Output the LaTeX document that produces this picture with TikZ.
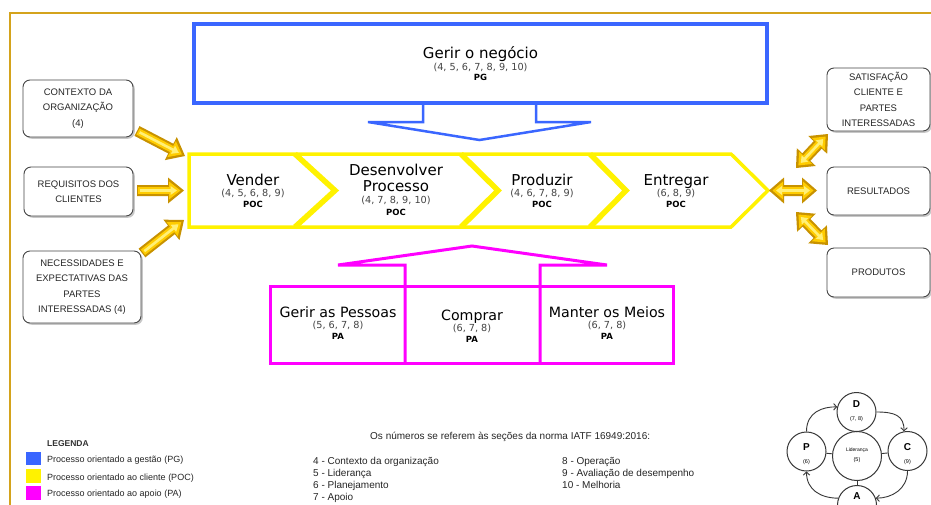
\documentclass[tikz,border=0pt]{standalone}
\usepackage{fontspec}
\setmainfont{DejaVu Sans}
\newfontfamily\arialfam{Liberation Sans}
\usetikzlibrary{arrows.meta,shadows,calc}

\definecolor{frameGold}{RGB}{212,163,28}
\definecolor{pgBlue}{RGB}{58,102,255}
\definecolor{pocYellow}{RGB}{255,242,0}
\definecolor{paMagenta}{RGB}{255,0,255}
\definecolor{goldDark}{RGB}{200,146,0}
\definecolor{goldMid}{RGB}{255,204,0}
\definecolor{goldLight}{RGB}{255,240,120}
\definecolor{numGray}{RGB}{68,68,68}
\definecolor{boxEdge}{RGB}{70,70,70}
\definecolor{cycGray}{RGB}{55,55,55}

% fat single-headed arrow: start, end, shaft half width, head half width, head length, colour
\newcommand\singlefat[6]{%
  \coordinate (sf-h) at ($(#2)!#5!(#1)$);
  \fill[#6] ($(#1)!#3!90:(#2)$) -- ($(sf-h)!#3!90:(#2)$) -- ($(sf-h)!#4!90:(#2)$) -- (#2)
    -- ($(sf-h)!#4!-90:(#2)$) -- ($(sf-h)!#3!-90:(#2)$) -- ($(#1)!#3!-90:(#2)$) -- cycle;}
% fat double-headed arrow, same arguments
\newcommand\doublefat[6]{%
  \coordinate (df-a) at ($(#1)!#5!(#2)$);
  \coordinate (df-b) at ($(#2)!#5!(#1)$);
  \fill[#6] (#1) -- ($(df-a)!#4!90:(#2)$) -- ($(df-a)!#3!90:(#2)$) -- ($(df-b)!#3!90:(#2)$)
    -- ($(df-b)!#4!90:(#2)$) -- (#2) -- ($(df-b)!#4!-90:(#2)$) -- ($(df-b)!#3!-90:(#2)$)
    -- ($(df-a)!#3!-90:(#2)$) -- ($(df-a)!#4!-90:(#2)$) -- cycle;}
% bevelled gold arrows built from three layers
\newcommand\goldarrow[2]{%
  \singlefat{#1}{#2}{5.5pt}{13pt}{16pt}{goldDark}
  \coordinate (ga-s) at ($(#1)!1.2pt!(#2)$);
  \coordinate (ga-e) at ($(#2)!3.5pt!(#1)$);
  \singlefat{ga-s}{ga-e}{3.4pt}{9pt}{11.5pt}{goldMid}
  \coordinate (ga-s2) at ($(#1)!3pt!(#2)$);
  \coordinate (ga-e2) at ($(#2)!7pt!(#1)$);
  \singlefat{ga-s2}{ga-e2}{1.3pt}{4.5pt}{6.5pt}{goldLight}}
\newcommand\golddouble[2]{%
  \doublefat{#1}{#2}{5.5pt}{13pt}{15pt}{goldDark}
  \coordinate (gd-s) at ($(#1)!3.5pt!(#2)$);
  \coordinate (gd-e) at ($(#2)!3.5pt!(#1)$);
  \doublefat{gd-s}{gd-e}{3.4pt}{9pt}{10.5pt}{goldMid}
  \coordinate (gd-s2) at ($(#1)!7pt!(#2)$);
  \coordinate (gd-e2) at ($(#2)!7pt!(#1)$);
  \doublefat{gd-s2}{gd-e2}{1.3pt}{4.5pt}{6pt}{goldLight}}

\begin{document}
\begin{tikzpicture}[x=1pt,y=-1pt,
  infobox/.style={draw=boxEdge, line width=0.9pt, rounded corners=7pt, fill=white,
    drop shadow={shadow xshift=1.8pt, shadow yshift=-1.8pt, fill=black, opacity=0.22},
    align=center, inner sep=0pt, text=black!85,
    font=\arialfam\fontsize{9.5}{15.5}\selectfont},
  proc/.style={inner sep=0pt, text height=10.9pt, text depth=0pt, font=\fontsize{15}{18}\selectfont},
  procsm/.style={inner sep=0pt, text height=10.3pt, text depth=0pt, font=\fontsize{14.2}{17}\selectfont},
  clauses/.style={inner sep=0pt, text height=7pt, text depth=0pt, text=numGray, font=\fontsize{9.7}{11}\selectfont},
  tagl/.style={inner sep=0pt, text height=6.2pt, text depth=0pt, font=\bfseries\fontsize{8.5}{10}\selectfont},
  legtext/.style={anchor=west, inner sep=0pt, text height=6.5pt, text depth=0pt, text=black!85, font=\arialfam\fontsize{9}{11}\selectfont},
  listtext/.style={anchor=west, inner sep=0pt, text height=7.2pt, text depth=0pt, text=black!85, font=\arialfam\fontsize{10}{12}\selectfont},
  cyc/.style={circle, draw=cycGray, line width=1pt, fill=white, inner sep=0pt, minimum size=39pt},
  cycarrow/.style={draw=cycGray, line width=0.9pt, -{Straight Barb[length=3pt,width=6.5pt]}},
  cycletter/.style={inner sep=0pt, font=\arialfam\bfseries\fontsize{10}{11}\selectfont},
  cycnum/.style={inner sep=0pt, font=\arialfam\fontsize{5.5}{6}\selectfont}]

\clip (0,0) rectangle (931,504);
\fill[white] (0,0) rectangle (931,504);

% outer frame
\draw[frameGold, line width=1.6pt] (10,13) rectangle (950,530);

% management process (top)
\node[draw=pgBlue, line width=3.5pt, minimum width=573pt, minimum height=79pt, inner sep=0pt] (pg) at (480.5,63.5) {};
\node[proc] (pg-t) at (480.5,53) {Gerir o negócio};
\node[clauses] (pg-n) at (480.5,66.5) {(4, 5, 6, 7, 8, 9, 10)};
\node[tagl] (pg-c) at (480.5,77) {PG};
\draw[pgBlue, line width=2.5pt, line join=miter] (423,103) -- (423,122) -- (368,122) -- (479.5,140)
  -- (591,122) -- (536,122) -- (536,103);

% customer-oriented process chain
\draw[pocYellow, line width=3.5pt, line join=miter] (189,154) -- (731,154) -- (768,190.5) -- (731,227) -- (189,227) -- cycle;
\draw[pocYellow, line width=5.5pt, line join=miter] (295,154) -- (335,190.5) -- (295,227);
\draw[pocYellow, line width=5.5pt, line join=miter] (461,154) -- (498,190.5) -- (461,227);
\draw[pocYellow, line width=5.5pt, line join=miter] (590,154) -- (626,190.5) -- (590,227);

\node[proc] (v-t) at (253,180.5) {Vender};
\node[clauses] (v-n) at (253,193) {(4, 5, 6, 8, 9)};
\node[tagl] (v-c) at (253,204.5) {POC};
\node[proc] (dp-t1) at (396,170.5) {Desenvolver};
\node[proc] (dp-t2) at (396,186) {Processo};
\node[clauses] (dp-n) at (396,200) {(4, 7, 8, 9, 10)};
\node[tagl] (dp-c) at (396,212) {POC};
\node[proc] (pr-t) at (542,180) {Produzir};
\node[clauses] (pr-n) at (542,193) {(4, 6, 7, 8, 9)};
\node[tagl] (pr-c) at (542,204.5) {POC};
\node[proc] (en-t) at (676,180) {Entregar};
\node[clauses] (en-n) at (676,193) {(6, 8, 9)};
\node[tagl] (en-c) at (676,204.5) {POC};

% support processes (bottom)
\draw[paMagenta, line width=3pt] (270,286) rectangle (673,363);
\draw[paMagenta, line width=3pt, line join=miter] (405,363) -- (405,265) -- (338,265) -- (472,246)
  -- (607,265) -- (540,265) -- (540,363);
\node[procsm] (gp-t) at (338,312) {Gerir as Pessoas};
\node[clauses] (gp-n) at (338,325) {(5, 6, 7, 8)};
\node[tagl] (gp-c) at (338,336.5) {PA};
\node[procsm] (co-t) at (472,315) {Comprar};
\node[clauses] (co-n) at (472,327.5) {(6, 7, 8)};
\node[tagl] (co-c) at (472,339) {PA};
\node[procsm] (mm-t) at (607,312) {Manter os Meios};
\node[clauses] (mm-n) at (607,325) {(6, 7, 8)};
\node[tagl] (mm-c) at (607,336.5) {PA};

% inputs
\node[infobox, minimum width=110pt, minimum height=57pt] (ctx) at (78,108.5) {CONTEXTO DA\\ORGANIZAÇÃO\\(4)};
\node[infobox, minimum width=109pt, minimum height=49pt] (req) at (78.5,191.5) {REQUISITOS DOS\\CLIENTES};
\node[infobox, minimum width=118pt, minimum height=72pt] (nec) at (82,287) {NECESSIDADES E\\EXPECTATIVAS DAS\\PARTES\\INTERESSADAS (4)};

% outputs
\node[infobox, minimum width=103pt, minimum height=63pt] (sat) at (878.5,99.5) {SATISFAÇÃO\\CLIENTE E\\PARTES\\INTERESSADAS};
\node[infobox, minimum width=103pt, minimum height=48pt] (res) at (878.5,191) {RESULTADOS};
\node[infobox, minimum width=103pt, minimum height=49pt] (prod) at (878.5,272.5) {PRODUTOS};

% gold arrows
\coordinate (ctx-o) at (137,131);
\coordinate (poc-i1) at (185,156);
\coordinate (req-o) at (137,190.5);
\coordinate (poc-i2) at (184,190.5);
\coordinate (nec-o) at (142,253);
\coordinate (poc-i3) at (184,220);
\goldarrow{ctx-o}{poc-i1}
\goldarrow{req-o}{poc-i2}
\goldarrow{nec-o}{poc-i3}

\coordinate (poc-o1) at (796,168);
\coordinate (sat-i) at (828,134);
\coordinate (poc-o2) at (769,190.5);
\coordinate (res-i) at (817,190.5);
\coordinate (poc-o3) at (796,212);
\coordinate (prod-i) at (828,245);
\golddouble{poc-o1}{sat-i}
\golddouble{poc-o2}{res-i}
\golddouble{poc-o3}{prod-i}

% legend
\node[anchor=west, inner sep=0pt, text height=6.3pt, text depth=0pt, font=\arialfam\bfseries\fontsize{8.5}{10}\selectfont, text=black!80] (leg) at (47,443) {LEGENDA};
\fill[pgBlue] (26,452) rectangle (41,465);
\fill[pocYellow] (26,469) rectangle (41,483);
\fill[paMagenta] (26,486) rectangle (41,500);
\node[legtext] (leg-pg) at (47,459) {Processo orientado a gestão (PG)};
\node[legtext] (leg-poc) at (47,477) {Processo orientado ao cliente (POC)};
\node[legtext] (leg-pa) at (47,493) {Processo orientado ao apoio (PA)};

% clause list
\node[listtext] (hdr) at (370,436) {Os números se referem às seções da norma IATF 16949:2016:};
\node[listtext] (s4) at (313,461) {4 - Contexto da organização};
\node[listtext] (s5) at (313,473) {5 - Liderança};
\node[listtext] (s6) at (313,485) {6 - Planejamento};
\node[listtext] (s7) at (313,497) {7 - Apoio};
\node[listtext] (s8) at (562,461) {8 - Operação};
\node[listtext] (s9) at (562,473) {9 - Avaliação de desempenho};
\node[listtext] (s10) at (562,485) {10 - Melhoria};

% PDCA cycle
\node[cyc] (cd) at (856.5,412) {};
\node[cyc] (cp) at (806.5,451.5) {};
\node[cyc] (cc) at (907.5,451) {};
\node[cyc] (ca) at (857,505) {};
\node[cyc, minimum size=49pt] (cl) at (857,456) {};
\draw[cycGray, line width=0.9pt] (cl) -- (cd);
\draw[cycGray, line width=0.9pt] (cl) -- (cp);
\draw[cycGray, line width=0.9pt] (cl) -- (cc);
\draw[cycGray, line width=0.9pt] (cl) -- (ca);
\draw[cycarrow] (cp.north) .. controls ($(cp.north)+(0,-20)$) and ($(cd.165)+(-14,0)$) .. (cd.165);
\draw[cycarrow] (cd.east) .. controls ($(cd.east)+(18,0)$) and ($(cc.100)+(0,-16)$) .. (cc.100);
\draw[cycarrow] (cc.south) .. controls ($(cc.south)+(0,18)$) and ($(ca.20)+(16,0)$) .. (ca.20);
\draw[cycarrow] (ca.160) .. controls ($(ca.160)+(-18,0)$) and ($(cp.south)+(0,18)$) .. (cp.south);
\node[cycletter] (cd-l) at (856.5,404) {D};
\node[cycnum] (cd-n) at (856.5,419) {(7, 8)};
\node[cycletter] (cp-l) at (806.5,447) {P};
\node[cycnum] (cp-n) at (806.5,462) {(6)};
\node[cycletter] (cc-l) at (907.5,447) {C};
\node[cycnum] (cc-n) at (907.5,462) {(9)};
\node[cycnum, font=\arialfam\fontsize{5}{5}\selectfont] (cl-l) at (857,450) {Liderança};
\node[cycnum] (cl-n) at (857,460) {(5)};
\node[cycletter] (ca-l) at (857,496) {A};
\end{tikzpicture}
\end{document}
